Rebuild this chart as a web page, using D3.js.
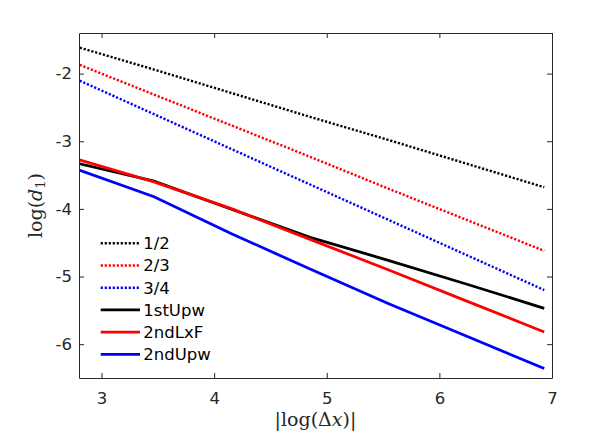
<!DOCTYPE html>
<meta charset="utf-8">
<style>
  body { margin: 0; background: #fff; }
  svg { font-family: "DejaVu Sans", sans-serif; }
</style>
<body>
<script src="https://d3js.org/d3.v7.min.js"></script>
<script>

  // x = |log(dx)|, one value per grid
  const xVals = [2.773, 3.466, 4.159, 4.852, 5.545, 6.238, 6.931];

  // reference slopes (dotted)
  const half = [-1.60, -1.94, -2.29, -2.64, -2.98, -3.33, -3.68];
  const twoThirds = [-1.85, -2.31, -2.77, -3.23, -3.70, -4.16, -4.62];
  const threeQuarters = [-2.08, -2.60, -3.12, -3.64, -4.16, -4.68, -5.20];

  // schemes (solid)
  const upw1 = [-3.32, -3.59, -4.01, -4.42, -4.76, -5.11, -5.47];
  const lxf2 = [-3.26, -3.60, -4.00, -4.45, -4.90, -5.36, -5.82];
  const upw2 = [-3.41, -3.82, -4.37, -4.89, -5.40, -5.88, -6.36];

  const seriesNames = ["1/2", "2/3", "3/4", "1stUpw", "2ndLxF", "2ndUpw"];
  const seriesValues = [half, twoThirds, threeQuarters, upw1, lxf2, upw2];
  const seriesColors = ["#000000", "#ff0000", "#0000ff", "#000000", "#ff0000", "#0000ff"];
  const seriesDotted = [true, true, true, false, false, false];

  const xTicks = [3, 4, 5, 6, 7];
  const yTicks = [-2, -3, -4, -5, -6];
  const xDomain = [2.8, 7];
  const yDomain = [-6.5, -1.4];

  const W = 611, H = 434;
  const margin = {left: 79, top: 33, right: 59, bottom: 56};
  const width = W - margin.left - margin.right;
  const height = H - margin.top - margin.bottom;

  const svg = d3.select("body").append("svg")
    .attr("width", W)
    .attr("height", H);

  const g = svg.append("g")
    .attr("transform", `translate(${margin.left},${margin.top})`);

  const x = d3.scaleLinear().domain(xDomain).range([0, width]);
  const y = d3.scaleLinear().domain(yDomain).range([height, 0]);

  g.append("clipPath").attr("id", "clip")
    .append("rect").attr("width", width).attr("height", height);

  const strokeW = k => seriesDotted[k] ? 2.4 : 2.8;
  const dash = k => seriesDotted[k] ? "2.2,1.8" : null;

  // lines
  const line = d3.line().x((d, i) => x(xVals[i])).y(d => y(d));
  const lines = g.append("g").attr("clip-path", "url(#clip)");
  seriesValues.forEach((vals, k) => {
    lines.append("path")
      .attr("d", line(vals))
      .attr("fill", "none")
      .attr("stroke", seriesColors[k])
      .attr("stroke-width", strokeW(k))
      .attr("stroke-dasharray", dash(k));
  });

  // axes, MATLAB style: box on, ticks inside
  const axisColor = "#262626";
  g.append("g").attr("transform", `translate(0,${height})`)
    .call(d3.axisBottom(x).tickValues(xTicks).tickFormat(d => String(d))
      .tickSizeInner(-5).tickSizeOuter(0).tickPadding(14.5));
  g.append("g")
    .call(d3.axisLeft(y).tickValues(yTicks).tickFormat(d => String(d))
      .tickSizeInner(-5).tickSizeOuter(0).tickPadding(7));
  g.append("g")
    .call(d3.axisTop(x).tickValues(xTicks).tickSizeInner(-5).tickSizeOuter(0).tickFormat(""));
  g.append("g").attr("transform", `translate(${width},0)`)
    .call(d3.axisRight(y).tickValues(yTicks).tickSizeInner(-5).tickSizeOuter(0).tickFormat(""));

  g.selectAll(".domain, .tick line").attr("stroke", axisColor).attr("stroke-width", 1);
  g.selectAll(".tick text")
    .attr("fill", axisColor)
    .style("font-family", "DejaVu Sans, sans-serif")
    .style("font-size", "16.5px");

  // axis labels
  const xl = svg.append("text")
    .attr("x", margin.left + width / 2)
    .attr("y", 426)
    .attr("text-anchor", "middle")
    .attr("fill", axisColor)
    .style("font-family", "DejaVu Serif, serif")
    .style("font-size", "19px");
  xl.append("tspan").text("|log(Δ");
  xl.append("tspan").attr("font-style", "italic").text("x");
  xl.append("tspan").text(")|");

  const yl = svg.append("text")
    .attr("transform", `translate(42,${margin.top + height / 2}) rotate(-90)`)
    .attr("text-anchor", "middle")
    .attr("fill", axisColor)
    .style("font-family", "DejaVu Serif, serif")
    .style("font-size", "19px");
  yl.append("tspan").text("log(");
  yl.append("tspan").attr("font-style", "italic").text("d");
  yl.append("tspan").attr("baseline-shift", "-25%").style("font-size", "13px").text("1");
  yl.append("tspan").text(")");

  // legend
  const legend = g.append("g").attr("transform", "translate(21.7,210.3)");
  seriesNames.forEach((name, k) => {
    const row = legend.append("g").attr("transform", `translate(0,${k * 22.2})`);
    row.append("line")
      .attr("x1", 0).attr("x2", 39.3)
      .attr("stroke", seriesColors[k])
      .attr("stroke-width", strokeW(k))
      .attr("stroke-dasharray", dash(k));
    row.append("text")
      .attr("x", 42.6)
      .attr("dy", "0.36em")
      .style("font-size", "16.5px")
      .attr("fill", "#000")
      .text(name);
  });

</script>
</body>
